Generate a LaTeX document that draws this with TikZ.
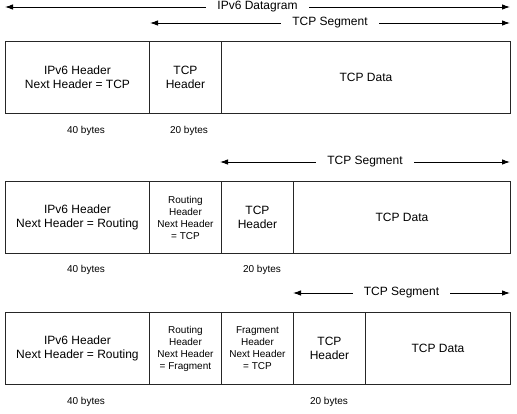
\documentclass[tikz,border=0pt]{standalone}
\usepackage{fontspec}
\setmainfont{Liberation Sans}
\usetikzlibrary{arrows.meta}
\begin{document}
\begin{tikzpicture}[x=1pt,y=-1pt,
  cell/.style={draw=black!85, line width=0.9pt, minimum height=72pt, inner sep=0pt, anchor=north west, align=center, font=\fontsize{12}{14}\selectfont},
  smallcell/.style={cell, font=\fontsize{10}{12}\selectfont},
  dimarrow/.style={line width=0.9pt, {Latex[length=8pt,width=5.5pt]}-{Latex[length=8pt,width=5.5pt]}},
  dimlabel/.style={fill=white, inner xsep=11pt, inner ysep=1pt, font=\fontsize{12}{14}\selectfont},
  bytes/.style={font=\fontsize{10}{12}\selectfont, inner sep=0pt}]
\useasboundingbox (0,0) rectangle (517,413);
% top arrows
\coordinate (d1l) at (5,7); \coordinate (d1r) at (510,7);
\draw[dimarrow] (d1l) -- (d1r) node[dimlabel, midway] (d1t) {IPv6 Datagram};
\coordinate (s1l) at (150,23); \coordinate (s1r) at (510,23);
\draw[dimarrow] (s1l) -- (s1r) node[dimlabel, midway] (s1t) {TCP Segment};
% row 1
\node[cell, minimum width=144pt] (a1) at (5,41) {IPv6 Header\\Next Header = TCP};
\node[cell, minimum width=72pt] (a2) at (149,41) {TCP\\Header};
\node[cell, minimum width=289pt] (a3) at (221,41) {TCP Data};
\node[bytes] (a1b) at (86,131) {40 bytes};
\node[bytes] (a2b) at (189,131) {20 bytes};
% row 2
\coordinate (s2l) at (220,162); \coordinate (s2r) at (510,162);
\draw[dimarrow] (s2l) -- (s2r) node[dimlabel, midway] (s2t) {TCP Segment};
\node[cell, minimum width=144pt] (b1) at (5,181) {IPv6 Header\\Next Header = Routing};
\node[smallcell, minimum width=72pt] (b2) at (149,181) {Routing\\Header\\Next Header\\= TCP};
\node[cell, minimum width=72pt] (b3) at (221,181) {TCP\\Header};
\node[cell, minimum width=217pt] (b4) at (293,181) {TCP Data};
\node[bytes] (b1b) at (86,270) {40 bytes};
\node[bytes] (b3b) at (262,270) {20 bytes};
% row 3
\coordinate (s3l) at (293,293); \coordinate (s3r) at (510,293);
\draw[dimarrow] (s3l) -- (s3r) node[dimlabel, midway] (s3t) {TCP Segment};
\node[cell, minimum width=144pt] (c1) at (5,312) {IPv6 Header\\Next Header = Routing};
\node[smallcell, minimum width=72pt] (c2) at (149,312) {Routing\\Header\\Next Header\\= Fragment};
\node[smallcell, minimum width=72pt] (c3) at (221,312) {Fragment\\Header\\Next Header\\= TCP};
\node[cell, minimum width=72pt] (c4) at (293,312) {TCP\\Header};
\node[cell, minimum width=145pt] (c5) at (365,312) {TCP Data};
\node[bytes] (c1b) at (86,402) {40 bytes};
\node[bytes] (c4b) at (329,402) {20 bytes};
\end{tikzpicture}
\end{document}
